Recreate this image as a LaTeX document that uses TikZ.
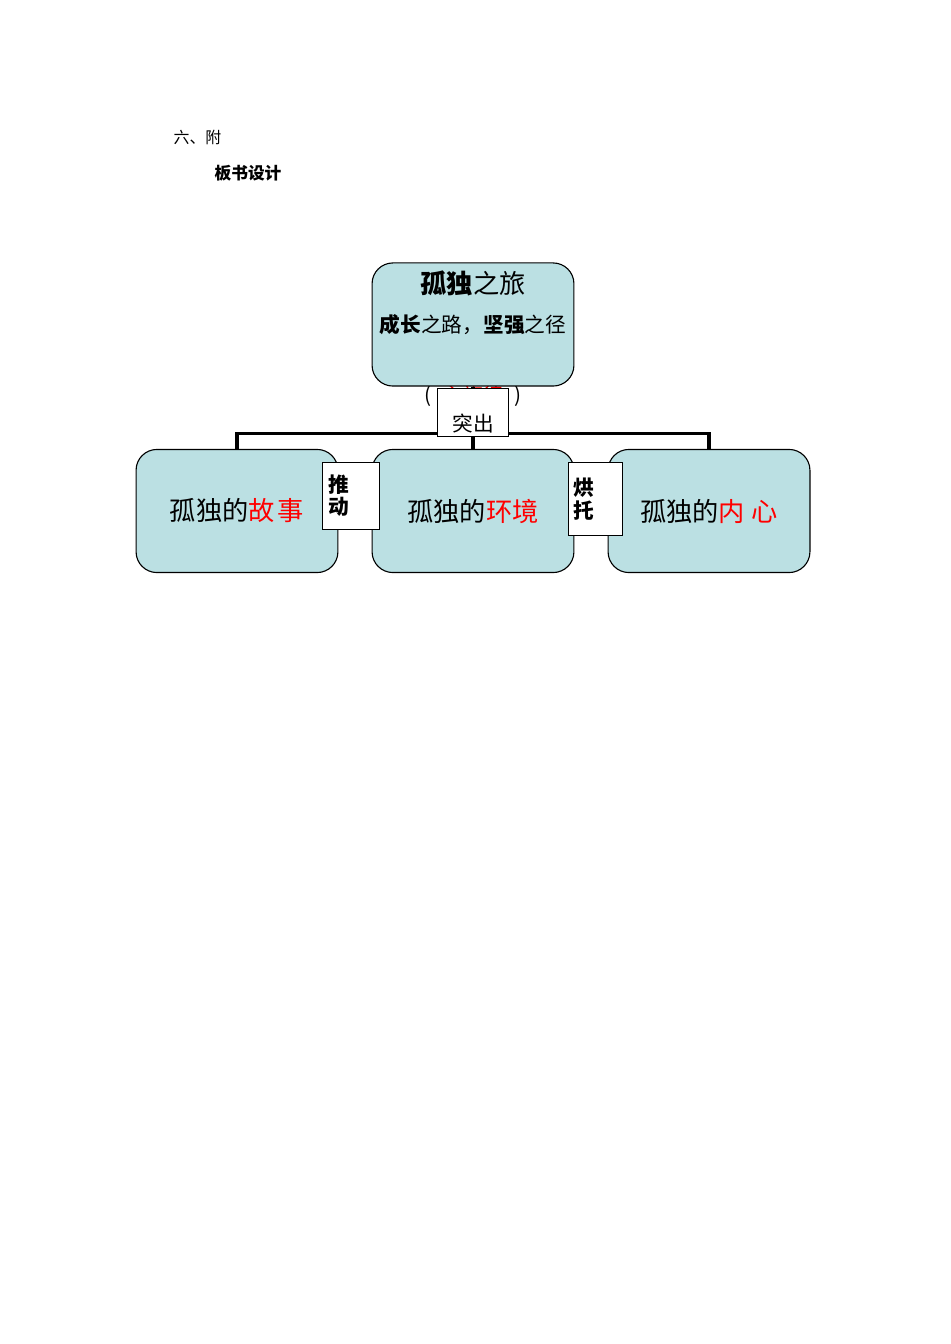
\documentclass[tikz,border=0pt]{standalone}
\usepackage{fontspec}
\setmainfont{Noto Sans CJK SC}
\definecolor{boardblue}{RGB}{187,224,227}
\tikzset{
  topic/.style={draw, fill=boardblue, line width=0.7pt, rounded corners=0.46cm, minimum width=4.46cm, minimum height=2.72cm, font=\fontsize{16.5pt}{18pt}\selectfont},
  bar/.style={line width=2pt},
  tag/.style={draw, fill=white, line width=0.6pt, inner sep=0.15cm, align=left, font=\fontsize{13pt}{14pt}\selectfont}
}
\begin{document}
\begin{tikzpicture}[x=0.0221cm, y=-0.0221cm]
				\useasboundingbox (0,0) rectangle (950,1344);
				\node[anchor=west, font=\fontsize{10pt}{12pt}\selectfont] (part) at (168,137) {六、附};
				\node[anchor=west, font=\fontsize{10.5pt}{12pt}\selectfont\bfseries] (plan) at (209,173) {板书设计};
				\node[font=\fontsize{13pt}{14pt}\selectfont] (theme) at (473,396) {(\enspace\textcolor{red}{主旋律}\enspace)};
				\node[topic] (top) at (473,324.5) {};
				\node[font=\fontsize{16.5pt}{18pt}\selectfont] (title) at (473,283) {\textbf{孤独}之旅};
				\node[font=\fontsize{13pt}{14pt}\selectfont] (motto) at (473,325) {\textbf{成长}之路，\textbf{坚强}之径};
				\node[topic] (story) at (237,511) {孤独的\textcolor{red}{故\hspace{2pt}事}};
				\node[topic] (env) at (473,511) {孤独的\textcolor{red}{环境}};
				\node[topic] (heart) at (709,511) {\raisebox{-7pt}{孤独的\textcolor{red}{内\hspace{4pt}心}}};
				\draw[bar] (story.north) -- ++(0,-15) -| (heart.north);
				\draw[bar] (top.south) -- (env.north);
				\node[tag, minimum width=1.55cm, minimum height=1.06cm, align=center] (stress) at (473,412) {\raisebox{-12pt}[0pt][0pt]{突出}};
				\node[tag, text width=0.96cm, minimum height=1.5cm, font=\fontsize{13pt}{14pt}\selectfont\bfseries] (push) at (350.5,496) {推\\动};
				\node[tag, text width=0.96cm, minimum height=1.63cm, inner xsep=0.12cm, font=\fontsize{13pt}{14pt}\selectfont\bfseries] (foil) at (595.5,499) {烘\\托\\[-6pt]};
			\end{tikzpicture}
\end{document}
